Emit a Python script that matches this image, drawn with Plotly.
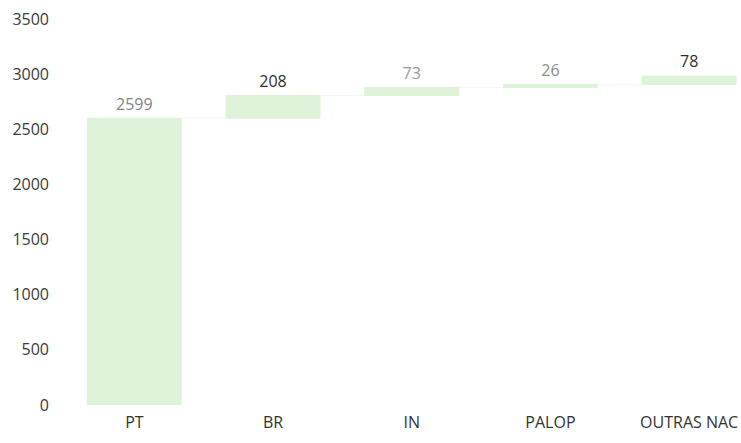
import plotly.graph_objects as go

categories = ["PT", "BR", "IN", "PALOP", "OUTRAS NAC"]
values = [2599, 208, 73, 26, 78]
label_colors = ["#858585", "#2e2e2e", "#9a9a9a", "#8a8a8a", "#2e2e2e"]

fig = go.Figure(go.Waterfall(
    x=categories,
    y=values,
    measure=["relative"] * len(values),
    text=[str(v) for v in values],
    textposition="outside",
    textfont=dict(family="Open Sans, sans-serif", size=16, color=label_colors),
    increasing=dict(marker=dict(color="#dff3da", line=dict(width=0))),
    connector=dict(line=dict(color="rgba(0,0,0,0.04)", width=1)),
    width=0.685,
    cliponaxis=False,
))

fig.update_layout(
    width=741, height=443,
    margin=dict(l=65, r=0, t=19, b=38),
    paper_bgcolor="white", plot_bgcolor="white",
    showlegend=False,
    font=dict(family="Open Sans, sans-serif", color="#3a3a3a"),
)
fig.update_yaxes(range=[0, 3500], dtick=500, showgrid=False, zeroline=False,
                 showline=False, ticks="", tickfont=dict(size=16, color="#3a3a3a"),
                 ticklabelstandoff=15)
fig.update_xaxes(range=[-0.5, 4.374], showgrid=False, showline=False, ticks="",
                 tickfont=dict(size=16, color="#333333"), ticklabelstandoff=6)

fig.write_html("out.html")
